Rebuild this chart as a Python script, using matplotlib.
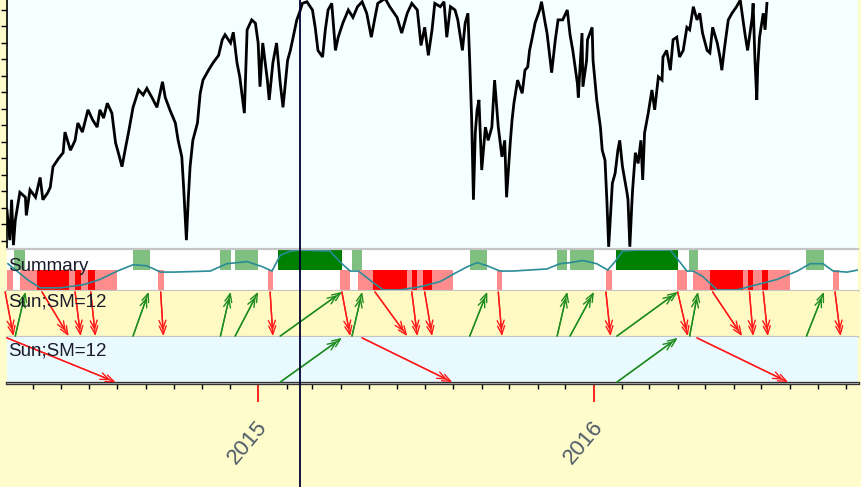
import matplotlib

matplotlib.use("Agg")
import matplotlib.pyplot as plt
import pandas as pd
from matplotlib.ticker import FixedLocator, MultipleLocator

plt.rcParams["font.family"] = ["Liberation Sans", "DejaVu Sans"]

# x axis everywhere = calendar days since BASE
BASE = pd.Timestamp("2015-01-01")
X_RANGE = (-273, 652)
CURSOR_DATE = "2015-02-15"

# index level (day offset, close)
price_day = [
    -273, -270, -268, -266, -264, -259, -253, -252, -248, -242, -237, -234, -229, -226,
    -223, -217, -212, -210, -204, -199, -196, -191, -185, -180, -175, -172, -168, -164,
    -159, -155, -152, -148, -144, -141, -136, -130, -125, -121, -115, -110, -104, -101,
    -96, -90, -87, -83, -81, -78, -76, -74, -71, -66, -63, -60, -54, -49, -43, -39,
    -36, -30, -27, -23, -20, -15, -12, -7, -3, 0, 2, 5, 10, 12, 16, 20, 24, 27, 32, 35,
    38, 42, 45, 48, 53, 59, 62, 65, 70, 73, 76, 80, 84, 87, 92, 98, 103, 108, 113, 118,
    123, 127, 130, 138, 143, 151, 156, 162, 167, 173, 177, 181, 185, 189, 192, 198,
    202, 205, 209, 214, 217, 222, 225, 228, 230, 232, 234, 236, 238, 240, 243, 247,
    250, 254, 257, 261, 265, 268, 270, 274, 276, 278, 282, 287, 290, 293, 295, 298,
    301, 306, 308, 312, 314, 319, 323, 326, 331, 336, 339, 342, 347, 348, 352, 353,
    357, 358, 363, 364, 366, 368, 372, 374, 377, 379, 381, 385, 388, 391, 393, 396,
    401, 402, 404, 406, 407, 410, 413, 416, 418, 420, 424, 428, 431, 435, 439, 440,
    444, 448, 451, 455, 458, 462, 466, 469, 473, 477, 480, 483, 488, 491, 494, 499,
    502, 504, 507, 511, 515, 520, 524, 527, 529, 532, 537, 538, 540, 542, 543, 545,
    549, 551, 553,
]
price_val = [
    1877, 1841, 1890, 1835, 1865, 1899, 1893, 1871, 1902, 1893, 1917, 1890, 1898, 1905,
    1930, 1940, 1947, 1972, 1950, 1962, 1983, 1972, 1999, 1987, 1978, 1999, 1989, 2007,
    1995, 1959, 1947, 1930, 1954, 1971, 2002, 2023, 2017, 2025, 2013, 2002, 2033, 2014,
    1999, 1983, 1962, 1942, 1905, 1841, 1890, 1930, 1962, 1983, 2019, 2035, 2047, 2056,
    2065, 2084, 2090, 2080, 2093, 2056, 2039, 1995, 2096, 2108, 2104, 2080, 2027, 2080,
    2035, 2011, 2056, 2080, 2031, 2002, 2059, 2071, 2087, 2108, 2117, 2128, 2130, 2120,
    2099, 2071, 2063, 2096, 2120, 2128, 2071, 2087, 2104, 2120, 2111, 2124, 2130, 2116,
    2087, 2111, 2128, 2134, 2124, 2111, 2092, 2116, 2128, 2120, 2077, 2099, 2065, 2096,
    2128, 2124, 2130, 2087, 2124, 2120, 2108, 2071, 2104, 2116, 2056, 1990, 1890, 1971,
    1999, 2011, 1926, 1978, 1962, 1978, 2035, 1978, 1942, 1962, 1893, 1959, 1987, 2007,
    2035, 2019, 2047, 2051, 2071, 2087, 2104, 2120, 2130, 2104, 2092, 2044, 2084, 2108,
    2108, 2120, 2090, 2071, 2031, 2014, 2092, 2027, 2059, 2084, 2099, 2059, 2035, 2011,
    1978, 1950, 1938, 1890, 1833, 1910, 1922, 1950, 1962, 1930, 1898, 1890, 1833, 1881,
    1902, 1947, 1934, 1962, 1914, 1971, 1995, 2023, 1999, 2039, 2035, 2063, 2071, 2047,
    2084, 2087, 2063, 2071, 2099, 2096, 2124, 2108, 2116, 2092, 2071, 2068, 2099, 2080,
    2063, 2047, 2075, 2108, 2116, 2124, 2132, 2108, 2092, 2071, 2111, 2128, 2059, 2011,
    2051, 2087, 2116, 2096, 2128,
]

# summary oscillator (-100 .. 100)
sum_day = [
    -272, -251, -237, -215, -190, -172, -153, -136, -121, -106, -92, -52, -34, -12, 5,
    15, 24, 35, 46, 78, 91, 100, 109, 125, 136, 154, 176, 198, 212, 227, 238, 249, 263,
    277, 314, 328, 339, 353, 368, 380, 388, 396, 412, 448, 458, 466, 473, 483, 499, 520,
    542, 564, 586, 600, 614, 625, 640, 652,
]
sum_val = [
    30, -45, -85, -85, -70, -45, -5, 25, 20, -10, -10, -5, 30, 40, 15, -5, 70, 90, 95,
    90, 30, -5, -5, -60, -95, -95, -80, -55, -20, 15, 35, 20, -5, -5, 5, 30, 35, 45, 30,
    0, 40, 90, 95, 95, 40, -5, -5, -30, -95, -95, -70, -45, -5, 30, 30, -5, -10, 0,
]

# summary signal blocks (start day, end day)
green_weak = [(-265, -253), (-136, -118), (-42, -30), (-25, 0), (102, 113), (230, 249),
              (325, 336), (339, 365), (468, 478), (595, 615)]
green_strong = [(22, 91), (389, 456)]
red_weak = [(-273, -266), (-259, -240), (-206, -199), (-193, -185), (-177, -153),
            (-109, -102), (11, 16), (89, 100), (108, 125), (162, 167), (173, 179),
            (189, 212), (260, 265), (378, 385), (455, 466), (473, 491), (527, 532),
            (538, 548), (554, 578), (625, 631)]
red_strong = [(-240, -206), (-199, -193), (-185, -177), (125, 162), (167, 173),
              (179, 189), (491, 527), (532, 538), (548, 554)]

# Sun;SM=12 signals (start day, end day)
fast_buy = [(-264, -253), (-136, -119), (-41, -30), (-25, 0), (24, 91), (102, 113),
            (230, 249), (325, 336), (339, 365), (390, 456), (469, 478), (596, 615)]
fast_sell = [(-275, -266), (-235, -206), (-199, -193), (-182, -177), (-106, -103),
             (13, 16), (91, 100), (127, 162), (167, 173), (181, 189), (261, 265),
             (378, 383), (456, 467), (494, 526), (534, 538), (549, 554), (627, 633)]
slow_buy = [(24, 91), (390, 456)]
slow_sell = [(-273, -155), (113, 211), (477, 576)]

years = [2015, 2016]

FIG_BG = "#FFFCCB"
W, H = 861, 487
fig = plt.figure(figsize=(W / 100, H / 100), dpi=100, facecolor=FIG_BG)


def px_axes(x0, y0, x1, y1):
    ax = fig.add_axes([x0 / W, 1 - y1 / H, (x1 - x0) / W, (y1 - y0) / H])
    ax.set_xlim(*X_RANGE)
    ax.set_xticks([])
    ax.set_yticks([])
    for s in ax.spines.values():
        s.set_visible(False)
    return ax


def sep(ax, side, color="#C4C4C4", lw=1.6):
    ax.spines[side].set_visible(True)
    ax.spines[side].set_color(color)
    ax.spines[side].set_linewidth(lw)


def spans(pairs):
    return [(a, b - a) for a, b in pairs]


# price panel
ax_price = px_axes(7, 0, 858, 248)
ax_price.set_facecolor("#F6FFFF")
ax_price.plot(price_day, price_val, color="black", lw=2.0, solid_joinstyle="miter")
ax_price.set_ylim(1831.5, 2132.1)
ax_price.yaxis.set_major_locator(MultipleLocator(20))
ax_price.tick_params(axis="y", direction="out", length=4.5, width=1, labelleft=False)
sep(ax_price, "left", "black", 1.2)

# summary panel
ax_sum = px_axes(7, 249, 858, 291)
ax_sum.set_facecolor("white")
ax_sum.set_ylim(-100, 100)
ax_sum.broken_barh(spans(green_weak), (0, 100), color="#7FBF7F", lw=0)
ax_sum.broken_barh(spans(green_strong), (0, 100), color="#008000", lw=0)
ax_sum.broken_barh(spans(red_weak), (-100, 100), color="#FF8C8C", lw=0)
ax_sum.broken_barh(spans(red_strong), (-100, 100), color="#FF0000", lw=0)
ax_sum.plot(sum_day, sum_val, color="#2A8C96", lw=1.2)
ax_sum.text(0.001, 0.47, "Summary", transform=ax_sum.transAxes, fontsize=13.5,
            color="#1C1C2C", va="baseline")
sep(ax_sum, "top")
sep(ax_sum, "bottom")


def arrows(ax, pairs, up, color):
    y0, y1 = (0.02, 0.98) if up else (0.98, 0.02)
    for a, b in pairs:
        for shrink in (0, 4):
            ax.annotate("", xy=(b, y1), xytext=(a, y0), annotation_clip=False,
                        arrowprops=dict(arrowstyle="->,head_length=0.6,head_width=0.25",
                                        color=color, lw=1, shrinkA=0, shrinkB=shrink))


# Sun;SM=12 panels
ax_p1 = px_axes(7, 291, 858, 337)
ax_p1.set_facecolor("#FFFAC4")
ax_p1.set_ylim(0, 1)
arrows(ax_p1, fast_buy, True, "#1E8C1E")
arrows(ax_p1, fast_sell, False, "#FF1A1A")
ax_p1.text(0.001, 0.66, "Sun;SM=12", transform=ax_p1.transAxes, fontsize=13.5,
           color="#1C1C2C", va="baseline")
sep(ax_p1, "bottom")

ax_p2 = px_axes(7, 337, 858, 383)
ax_p2.set_facecolor("#E9FAFF")
ax_p2.set_ylim(0, 1)
arrows(ax_p2, slow_buy, True, "#1E8C1E")
arrows(ax_p2, slow_sell, False, "#FF1A1A")
ax_p2.text(0.001, 0.59, "Sun;SM=12", transform=ax_p2.transAxes, fontsize=13.5,
           color="#1C1C2C", va="baseline")
sep(ax_p2, "bottom", "#333333", 2.4)
ax_p2.axhline(0, color="#A0A0A0", lw=0.7, zorder=5, clip_on=False)

# time axis: month ticks, red year ticks
months = pd.date_range("2014-05-01", "2016-10-01", freq="MS")
year_pos = [(pd.Timestamp(f"{y}-01-01") - BASE).days for y in years]
ax_p2.xaxis.set_major_locator(FixedLocator(year_pos))
ax_p2.xaxis.set_minor_locator(FixedLocator([(m - BASE).days for m in months]))
ax_p2.tick_params(axis="x", which="major", direction="out", length=14, width=1.2,
                  color="red", labelbottom=False)
ax_p2.tick_params(axis="x", which="minor", direction="out", length=4.5, width=1,
                  color="black")
for y, pos in zip(years, year_pos):
    ax_p2.annotate(str(y), xy=(pos, 0), xycoords=("data", "axes fraction"),
                   xytext=(10, -24), textcoords="offset points", ha="right", va="top",
                   rotation=50, fontsize=16, color="#4D5A66")

# cursor line across all panels
ax_cur = px_axes(7, 0, 858, 487)
ax_cur.set_facecolor("none")
ax_cur.axvline((pd.Timestamp(CURSOR_DATE) - BASE).days, color="#000033", lw=1.3)

fig.savefig("out.png", dpi=100, facecolor=FIG_BG)
